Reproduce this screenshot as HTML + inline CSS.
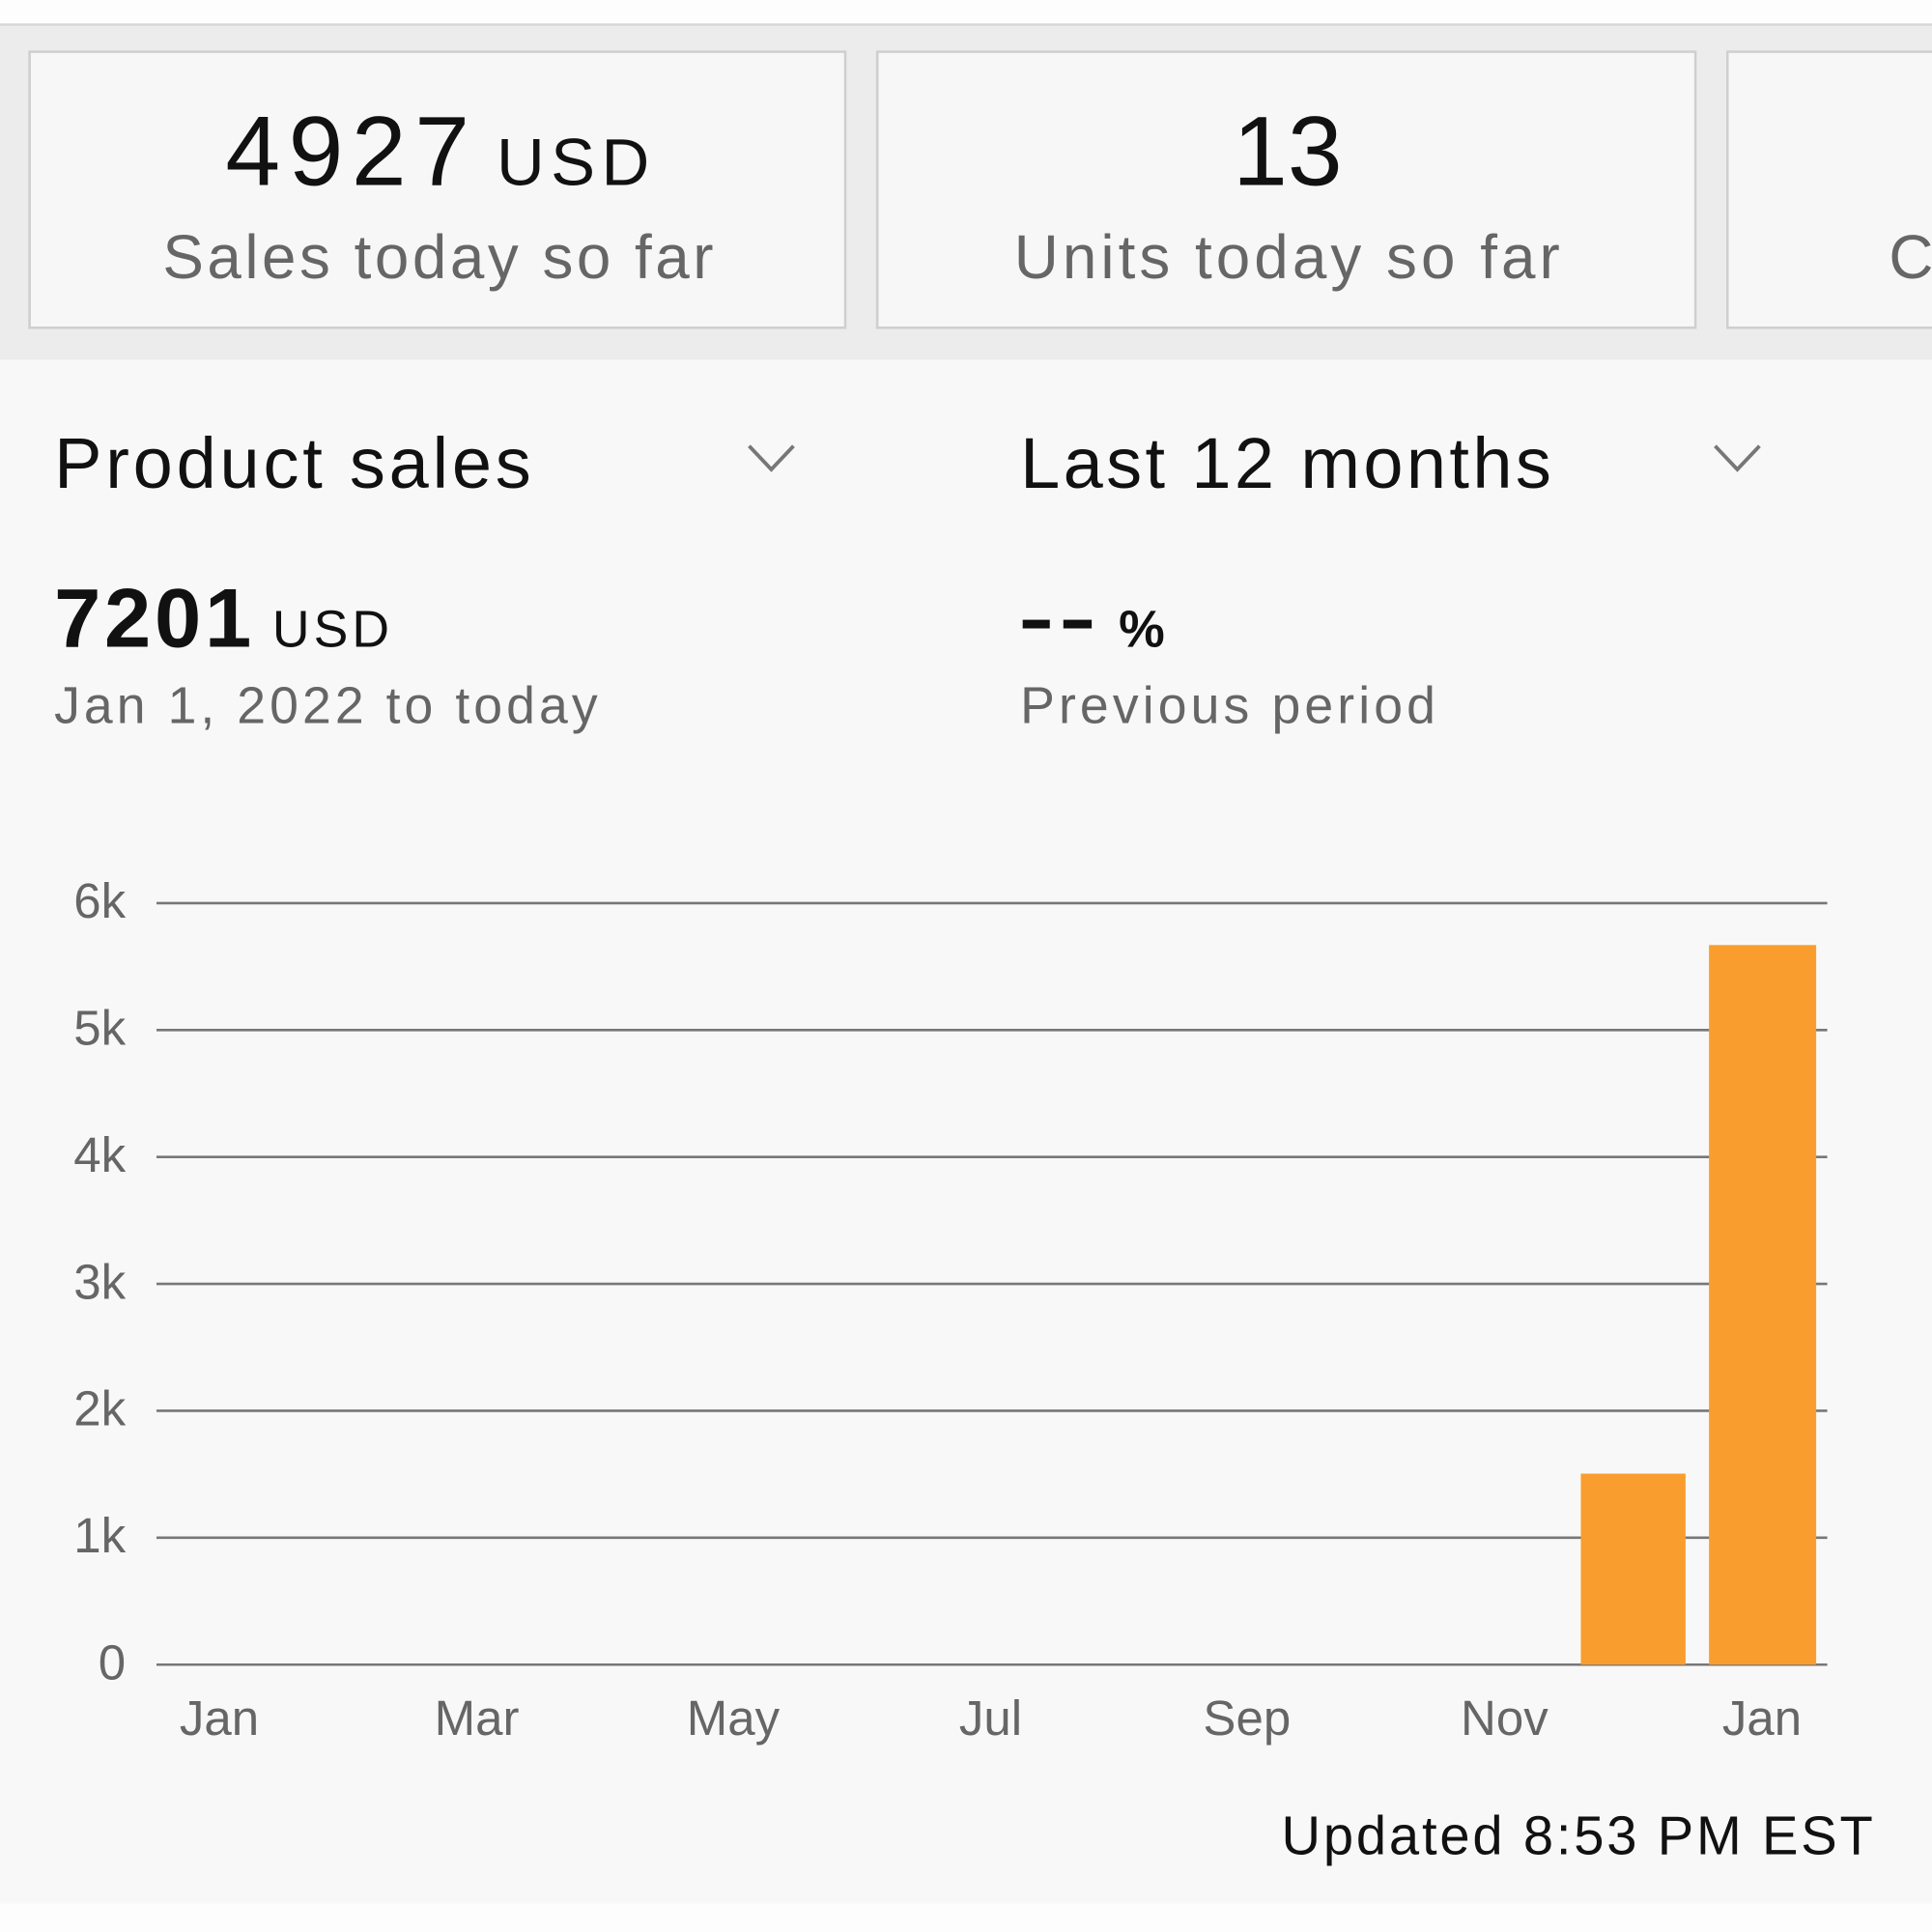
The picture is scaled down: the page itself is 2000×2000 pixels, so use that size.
<!DOCTYPE html>
<html><head><style>html,body{margin:0;padding:0;background:#fff}svg{display:block}</style></head>
<body>
<svg width="2000" height="2000" viewBox="0 0 1568 1568" xmlns="http://www.w3.org/2000/svg" font-family="Liberation Sans, sans-serif">
<rect x="0" y="0" width="1568" height="1568" fill="#fdfdfd"/>
<rect x="0" y="20" width="1568" height="272" fill="#ececec"/>
<line x1="0" y1="20" x2="1568" y2="20" stroke="#d8d8d8" stroke-width="2"/>
<rect x="24" y="42" width="662" height="224" fill="#f7f7f7" stroke="#cfcfcf" stroke-width="2"/>
<rect x="712" y="42" width="664" height="224" fill="#f7f7f7" stroke="#cfcfcf" stroke-width="2"/>
<rect x="1402" y="42" width="180" height="224" fill="#f7f7f7" stroke="#cfcfcf" stroke-width="2"/>
<rect x="0" y="292" width="1568" height="1253" fill="#f8f8f8"/>
<text x="183" y="150" font-size="80" fill="#111" textLength="198">4927</text>
<text x="403" y="150" font-size="54" fill="#111" textLength="124">USD</text>
<text x="132" y="226" font-size="50" fill="#666" textLength="447">Sales today so far</text>
<text x="1045" y="150" text-anchor="middle" font-size="80" fill="#111">13</text>
<text x="823" y="226" font-size="50" fill="#666" textLength="443">Units today so far</text>
<text x="1533" y="226" font-size="50" fill="#666">C</text>
<text x="44" y="396" font-size="58" fill="#111" textLength="387">Product sales</text>
<polyline points="608,362 626,381 644,362" fill="none" stroke="#777" stroke-width="3"/>
<text x="828" y="396" font-size="58" fill="#111" textLength="431">Last 12 months</text>
<polyline points="1392,362 1410,381 1428,362" fill="none" stroke="#777" stroke-width="3"/>
<text x="44" y="525" fill="#111" font-weight="bold" font-size="68" textLength="160">7201</text>
<text x="221" y="525" fill="#111" font-size="42" textLength="95">USD</text>
<text x="44" y="587" font-size="42" fill="#666" textLength="441">Jan 1, 2022 to today</text>
<rect x="830" y="503" width="22" height="7" fill="#111"/>
<rect x="863" y="503" width="23" height="7" fill="#111"/>
<text x="908" y="525" fill="#111" font-weight="bold" font-size="42">%</text>
<text x="828" y="587" font-size="42" fill="#666" textLength="337">Previous period</text>
<g stroke="#777" stroke-width="2">
<line x1="127" y1="733" x2="1483" y2="733"/><line x1="127" y1="836" x2="1483" y2="836"/><line x1="127" y1="939" x2="1483" y2="939"/><line x1="127" y1="1042" x2="1483" y2="1042"/><line x1="127" y1="1145" x2="1483" y2="1145"/><line x1="127" y1="1248" x2="1483" y2="1248"/><line x1="127" y1="1351" x2="1483" y2="1351"/>
</g>
<g font-size="40" fill="#666" text-anchor="end">
<text x="102" y="745">6k</text><text x="102" y="848">5k</text><text x="102" y="951">4k</text><text x="102" y="1054">3k</text><text x="102" y="1157">2k</text><text x="102" y="1260">1k</text><text x="102" y="1363">0</text>
</g>
<rect x="1283" y="1196" width="85" height="155" fill="#f99e2e"/>
<rect x="1387" y="767" width="87" height="584" fill="#f99e2e"/>
<g font-size="40" fill="#666" text-anchor="middle">
<text x="178" y="1408">Jan</text><text x="387" y="1408">Mar</text><text x="595" y="1408">May</text><text x="804" y="1408">Jul</text><text x="1012" y="1408">Sep</text><text x="1221" y="1408">Nov</text><text x="1430" y="1408">Jan</text>
</g>
<text x="1040" y="1505" font-size="44" fill="#111" textLength="480">Updated 8:53 PM EST</text>
</svg>
</body></html>
